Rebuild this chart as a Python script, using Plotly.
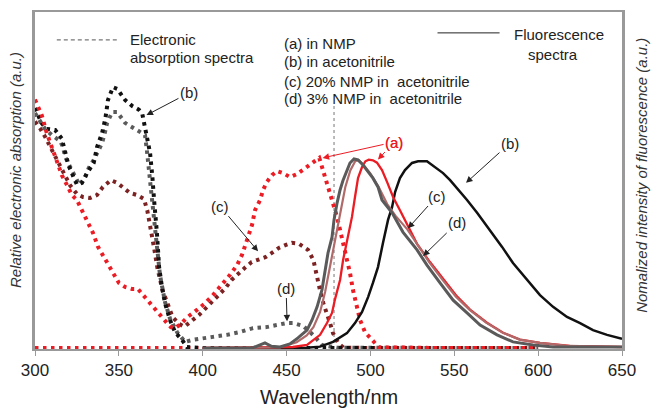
import plotly.graph_objects as go

# ---------------- data ----------------
# Electronic absorption spectra (dotted)
abs_a_nm = [300, 302, 304, 307, 310, 313, 316, 319, 322, 325, 328, 331, 334.6, 337.6, 341, 344, 347, 350, 353.7,
            357.8, 361.4, 364.4, 367.4, 370.4, 372.7, 375.7, 378.7, 381, 383.5, 386.5, 391, 396.6, 401.4, 406.1,
            411.5, 416.3, 420.5, 423.4, 426.4, 429.4, 431.2, 434.2, 436, 438.3, 441.3, 444.3, 447.9, 452.1, 456.2,
            459.8, 464, 467, 469.5, 471.7, 474.1, 475.9, 477.7, 480.1, 481.9, 483.7, 486, 487.8, 489.6, 492,
            493.8, 496.8, 501, 505, 540, 600]
abs_a_val = [0.74, 0.718, 0.694, 0.641, 0.599, 0.552, 0.516, 0.487, 0.457, 0.442, 0.412, 0.377, 0.344, 0.303, 0.273,
             0.243, 0.22, 0.196, 0.184, 0.178, 0.178, 0.16, 0.145, 0.125, 0.11, 0.092, 0.077, 0.065, 0.062, 0.072,
             0.095, 0.116, 0.136, 0.16, 0.19, 0.22, 0.249, 0.279, 0.323, 0.368, 0.412, 0.442, 0.472, 0.496, 0.516,
             0.528, 0.522, 0.51, 0.519, 0.531, 0.546, 0.558, 0.567, 0.531, 0.496, 0.466, 0.433, 0.392, 0.353,
             0.315, 0.273, 0.226, 0.175, 0.125, 0.086, 0.05, 0.027, 0.005, 0.003, 0.003]

abs_b_nm = [300, 302, 304, 307, 312, 316, 318, 320, 323, 325, 328, 331, 335, 337, 340, 342, 343.5, 346.5, 349,
            353.7, 358, 362, 364, 365, 367, 368.6, 370, 370.4, 371, 372.7, 374, 375.7, 377.5, 380.5, 383.5,
            387.7, 390.6, 400, 450, 500, 550, 600]
abs_b_val = [0.715, 0.694, 0.67, 0.653, 0.65, 0.624, 0.585, 0.545, 0.51, 0.488, 0.493, 0.522, 0.552, 0.599, 0.641,
             0.685, 0.739, 0.777, 0.772, 0.739, 0.721, 0.71, 0.697, 0.674, 0.629, 0.582, 0.51, 0.451, 0.442,
             0.344, 0.243, 0.184, 0.136, 0.086, 0.05, 0.027, 0.006, 0.003, 0.003, 0.003, 0.003, 0.003]

abs_c_nm = [300, 303, 306, 309, 312, 315, 318, 321, 325, 328.6, 332.8, 337, 340.5, 345.3, 349, 352.5, 356.6,
            360.8, 365, 367, 369, 371, 373, 376, 379, 382, 386, 389, 394, 397.8, 402, 405.5, 409.5, 413.6,
            417.2, 421.4, 425.6, 429.2, 433.4, 437.6, 441.2, 445.4, 449.6, 453.2, 457.4, 462.8, 466, 468,
            469.9, 471.7, 474.1, 475.9, 477.7, 480.7, 484, 500, 550, 600]
abs_c_val = [0.675, 0.655, 0.63, 0.6, 0.57, 0.54, 0.51, 0.485, 0.46, 0.451, 0.448, 0.457, 0.481, 0.501, 0.493,
             0.478, 0.463, 0.457, 0.445, 0.41, 0.36, 0.3, 0.24, 0.175, 0.135, 0.095, 0.074, 0.066, 0.086, 0.101,
             0.122, 0.139, 0.16, 0.181, 0.205, 0.226, 0.243, 0.258, 0.267, 0.273, 0.285, 0.3, 0.309, 0.315,
             0.312, 0.294, 0.264, 0.214, 0.175, 0.139, 0.107, 0.077, 0.047, 0.018, 0.004, 0.003, 0.003, 0.003]

abs_d_nm = [300, 303.6, 306, 310, 315, 316.7, 318, 321, 322.7, 325, 326.5, 330, 332, 335, 340, 341.7, 343,
            346, 349, 353.7, 357.8, 361.4, 365.6, 366.8, 368.6, 370.4, 372.7, 374.5, 377.5, 380.5, 384.7,
            389.5, 394, 400, 406, 414.5, 422, 430, 438, 444, 450, 454, 460, 464, 467, 471, 480, 550, 600]
abs_d_val = [0.7, 0.674, 0.653, 0.635, 0.617, 0.599, 0.57, 0.54, 0.522, 0.501, 0.487, 0.51, 0.537, 0.561, 0.611,
             0.643, 0.671, 0.703, 0.703, 0.671, 0.659, 0.65, 0.635, 0.585, 0.5, 0.4, 0.3, 0.22, 0.14, 0.09,
             0.05, 0.021, 0.027, 0.033, 0.036, 0.042, 0.05, 0.062, 0.065, 0.071, 0.077, 0.077, 0.068, 0.05,
             0.036, 0.012, 0.004, 0.003, 0.003]

abs_base_nm = [300, 400]
abs_base_val = [0.003, 0.003]

# Fluorescence spectra (solid)
fl_a_nm = [400, 440, 453.8, 462.2, 470, 474.1, 477.1, 478.9, 481.9, 483.7, 486.6, 489, 490.8, 492.6, 495,
           497, 499, 501.5, 503.9, 506.9, 509.9, 513.5, 517.6, 521.8, 525.4, 527.8, 535.5, 543.3, 551.6,
           559.4, 569.5, 579.1, 589.2, 601.1, 619, 650]
fl_a_val = [0.003, 0.004, 0.006, 0.012, 0.042, 0.077, 0.107, 0.148, 0.205, 0.264, 0.332, 0.392, 0.451, 0.507,
            0.54, 0.557, 0.562, 0.56, 0.553, 0.531, 0.496, 0.451, 0.412, 0.37, 0.335, 0.312, 0.258, 0.207,
            0.156, 0.117, 0.078, 0.048, 0.028, 0.018, 0.009, 0.006]

fl_b_nm = [400, 450, 462, 470, 477.7, 486, 490.8, 495, 498.6, 501.5, 504.5, 507.5, 510.5, 512.9, 514.7, 517.6,
           520.6, 524.8, 528.4, 533.7, 538.5, 543.3, 547.5, 551.6, 557.6, 563.6, 571.3, 578.5, 585, 593.4,
           601.1, 608.9, 617.2, 625, 632.7, 641.1, 650]
fl_b_val = [0.002, 0.002, 0.004, 0.007, 0.021, 0.047, 0.077, 0.11, 0.154, 0.196, 0.243, 0.315, 0.383, 0.421,
            0.466, 0.507, 0.531, 0.552, 0.557, 0.557, 0.54, 0.522, 0.501, 0.478, 0.442, 0.404, 0.353, 0.303,
            0.255, 0.205, 0.16, 0.125, 0.095, 0.077, 0.056, 0.042, 0.03]

fl_c_nm = [400, 446, 456, 462, 466, 470, 473, 476, 479, 482, 485, 488, 491, 493, 496, 500, 505, 510, 515, 522,
           528, 535, 543, 551, 559, 569, 579, 589, 601, 619, 650]
fl_c_val = [0.003, 0.005, 0.02, 0.04, 0.065, 0.11, 0.17, 0.25, 0.33, 0.41, 0.48, 0.53, 0.558, 0.56, 0.545,
            0.52, 0.48, 0.43, 0.395, 0.355, 0.31, 0.258, 0.205, 0.155, 0.117, 0.078, 0.048, 0.028, 0.018,
            0.009, 0.006]

fl_d_nm = [400, 430, 437.1, 441, 446.1, 452, 456.8, 462.2, 465.2, 468.2, 471.1, 472.9, 474.7, 477.1, 478.3,
           480.1, 481.9, 483.7, 486, 487.8, 490.2, 492.6, 495.6, 498.6, 501.5, 504.5, 506.9, 512.9, 519.4,
           527.8, 533.7, 541.5, 549.3, 557.6, 565.4, 575.5, 585, 597, 608.9, 629, 650]
fl_d_val = [0.003, 0.004, 0.018, 0.008, 0.006, 0.015, 0.033, 0.056, 0.086, 0.125, 0.175, 0.226, 0.285, 0.332,
            0.383, 0.433, 0.472, 0.501, 0.531, 0.552, 0.564, 0.561, 0.546, 0.525, 0.507, 0.481, 0.442, 0.404,
            0.347, 0.294, 0.249, 0.196, 0.145, 0.107, 0.071, 0.042, 0.021, 0.012, 0.006, 0.006, 0.006]

x_ticks = [300, 350, 400, 450, 500, 550, 600, 650]
excitation_nm = 478.3
excitation_top = 0.73

legend_lines = ["(a) in NMP", "(b) in acetonitrile", "(c) 20% NMP in  acetonitrile", "(d) 3% NMP in  acetonitrile"]

# ---------------- styles ----------------
RED = "#ec1c24"
BLACK = "#111111"
BROWN = "#7d2222"
GRAY = "#5a5a5a"
ROSE = "#b06a6a"
FONT = "Liberation Sans, Arial, sans-serif"
DOT = "3.5px,4.5px"

fig = go.Figure()


def dotted(x, y, color):
    fig.add_trace(go.Scatter(x=x, y=y, mode="lines", line=dict(color=color, width=4, dash=DOT),
                             hoverinfo="skip", showlegend=False))


def solid(x, y, color, w):
    fig.add_trace(go.Scatter(x=x, y=y, mode="lines", line=dict(color=color, width=w),
                             hoverinfo="skip", showlegend=False))


dotted(abs_base_nm, abs_base_val, RED)
dotted(abs_c_nm, abs_c_val, BROWN)
dotted(abs_d_nm, abs_d_val, GRAY)
dotted(abs_b_nm, abs_b_val, BLACK)
dotted(abs_a_nm, abs_a_val, RED)

solid(fl_b_nm, fl_b_val, BLACK, 2.5)
solid(fl_a_nm, fl_a_val, RED, 2.3)
solid(fl_c_nm, fl_c_val, ROSE, 2.2)
solid(fl_d_nm, fl_d_val, GRAY, 3)

# excitation line
fig.add_shape(type="line", x0=excitation_nm, x1=excitation_nm, y0=0, y1=excitation_top,
              line=dict(color="#777777", width=1, dash="3px,3px"), layer="below")

# legend samples
fig.add_shape(type="line", x0=313, x1=349.5, y0=0.917, y1=0.917, line=dict(color="#777777", width=1.3, dash="4px,3px"))
fig.add_shape(type="line", x0=540, x1=577, y0=0.938, y1=0.938, line=dict(color="#222222", width=1))

txt = dict(family=FONT, size=15, color="#222222")
ann = []
ann.append(dict(x=355.5, y=0.917, text="Electronic", xanchor="left", yanchor="middle", showarrow=False, font=txt))
ann.append(dict(x=355.5, y=0.864, text="absorption spectra", xanchor="left", yanchor="middle", showarrow=False, font=txt))
ann.append(dict(x=584.4, y=0.932, text="Fluorescence", xanchor="left", yanchor="middle", showarrow=False, font=txt))
ann.append(dict(x=608.9, y=0.875, text="spectra", xanchor="center", yanchor="middle", showarrow=False, font=txt))
for i, t in enumerate(legend_lines):
    ann.append(dict(x=447.5, y=[0.908, 0.852, 0.795, 0.742][i], text=t, xanchor="left", yanchor="middle",
                    showarrow=False, font=txt))


def arrow(text, lx, ly, tx, ty, color="#222222"):
    ann.append(dict(x=tx, y=ty, ax=lx, ay=ly, axref="x", ayref="y", text=text, showarrow=True,
                    arrowhead=2, arrowsize=1.3, arrowwidth=1, arrowcolor=color,
                    font=dict(family=FONT, size=15, color=color)))


arrow("(b)", 391.8, 0.76, 366.5, 0.694)
arrow("(c)", 410.3, 0.424, 433.0, 0.29)
arrow("(d)", 449.7, 0.181, 450.3, 0.082)
arrow("(a)", 514.1, 0.614, 471.5, 0.567, RED)
arrow("(a)", 514.1, 0.614, 504.5, 0.562, RED)
arrow("(b)", 583.2, 0.611, 557.0, 0.493)
arrow("(c)", 539.7, 0.454, 522.4, 0.358)
arrow("(d)", 551.6, 0.374, 531.4, 0.276)

ttl = dict(family=FONT, size=15, color="#333333")
ann.append(dict(xref="paper", yref="paper", x=-0.033, y=0.53, text="<i>Relative electronic absorption (a.u.)</i>",
                textangle=-90, showarrow=False, font=ttl, xanchor="center", yanchor="middle"))
ann.append(dict(xref="paper", yref="paper", x=1.033, y=0.515, text="<i>Nomalized intensity of fluorescence (a.u.)</i>",
                textangle=-90, showarrow=False, font=ttl, xanchor="center", yanchor="middle"))
ann.append(dict(xref="paper", yref="paper", x=0.5, y=-0.142, text="Wavelength/nm",
                showarrow=False, font=dict(family=FONT, size=20, color="#222222"), xanchor="center", yanchor="middle"))
fig.update_layout(annotations=ann)

fig.update_layout(
    width=651, height=410,
    margin=dict(l=35, r=29, t=12, b=61, autoexpand=False),
    plot_bgcolor="white", paper_bgcolor="white",
    font=dict(family=FONT, color="#222222"),
    xaxis=dict(range=[300, 650], tickvals=x_ticks, ticks="outside", ticklen=5, tickcolor="#999999",
               showline=True, linecolor="#999999", linewidth=1.5, mirror=True, showgrid=False, zeroline=False,
               automargin=False, tickfont=dict(family=FONT, size=17, color="#222222")),
    yaxis=dict(range=[0, 1], showticklabels=False, ticks="", showline=True, linecolor="#999999",
               linewidth=2.5, mirror=True, showgrid=False, zeroline=False, automargin=False),
)

fig.write_html("out.html")
